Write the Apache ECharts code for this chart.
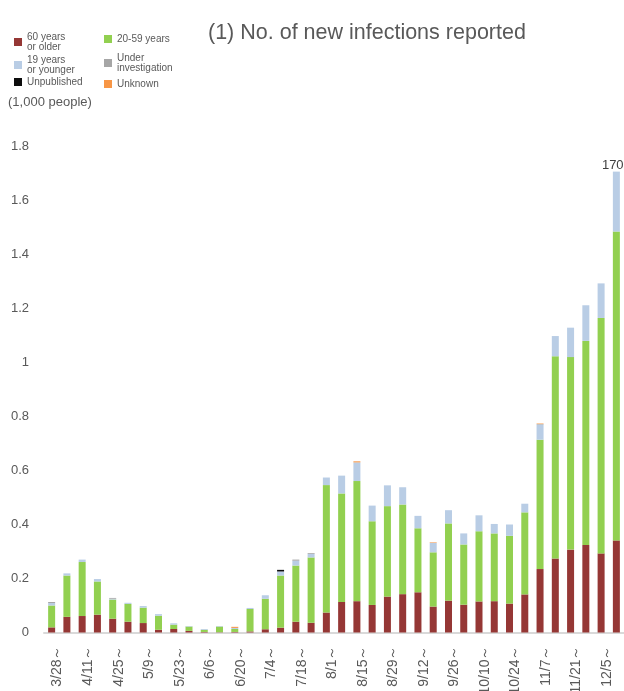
<!DOCTYPE html>
<html>
<head>
<meta charset="utf-8">
<script src="https://cdn.jsdelivr.net/npm/echarts@6/dist/echarts.min.js"></script>
<style>html,body{margin:0;padding:0;background:#fff}#c{width:624px;height:691px}</style>
</head>
<body>
<div id="c"></div>
<script>
var weeks = ['3/28～','4/4～','4/11～','4/18～','4/25～','5/2～','5/9～','5/16～','5/23～','5/30～','6/6～','6/13～','6/20～','6/27～','7/4～','7/11～','7/18～','7/25～','8/1～','8/8～','8/15～','8/22～','8/29～','9/5～','9/12～','9/19～','9/26～','10/3～','10/10～','10/17～','10/24～','10/31～','11/7～','11/14～','11/21～','11/28～','12/5～','12/12～'];
var age60plus = [0.019,0.058,0.061,0.066,0.051,0.040,0.035,0.010,0.013,0.006,0.002,0.001,0.002,0.004,0.012,0.018,0.040,0.036,0.074,0.113,0.116,0.102,0.133,0.142,0.149,0.096,0.118,0.103,0.115,0.116,0.107,0.141,0.235,0.274,0.307,0.324,0.293,0.341];
var age20to59 = [0.081,0.153,0.200,0.123,0.071,0.066,0.057,0.052,0.016,0.016,0.008,0.021,0.011,0.083,0.113,0.193,0.208,0.242,0.472,0.402,0.445,0.310,0.335,0.332,0.237,0.201,0.286,0.223,0.260,0.251,0.251,0.304,0.479,0.749,0.713,0.756,0.872,1.144];
var age19under = [0.009,0.008,0.009,0.009,0.003,0.004,0.006,0.006,0.005,0.002,0.003,0.002,0.004,0.004,0.013,0.015,0.018,0.013,0.028,0.066,0.069,0.058,0.077,0.064,0.046,0.035,0.049,0.041,0.059,0.035,0.042,0.032,0.056,0.075,0.109,0.132,0.128,0.222];
var underInvestigation = [0.004,0,0,0,0.003,0,0,0,0,0,0,0,0,0,0,0,0.004,0.003,0,0,0,0,0,0,0,0,0,0,0,0,0,0,0.002,0,0,0,0,0];
var unpublished = [0,0,0,0,0,0,0,0,0,0,0,0,0,0,0,0.006,0,0,0,0,0,0,0,0,0,0,0,0,0,0,0,0,0,0,0,0,0,0];
var unknown = [0,0,0,0,0,0,0,0,0,0,0,0,0.004,0,0,0,0,0,0,0,0.004,0,0,0,0,0.002,0,0,0,0,0,0,0.002,0,0,0,0,0];
var yTicks = [0,0.2,0.4,0.6,0.8,1,1.2,1.4,1.6,1.8];

var FONT = '"Liberation Sans", Arial, sans-serif';
var lastIdx = weeks.length - 1;
var lastTotal = age60plus[lastIdx] + age20to59[lastIdx] + age19under[lastIdx] + underInvestigation[lastIdx] + unpublished[lastIdx] + unknown[lastIdx];

function mk(name, data, color, withLabel) {
  return {
    name: name, type: 'bar', stack: 'total', barWidth: 7,
    itemStyle: {color: color},
    emphasis: {disabled: true},
    data: data.map(function (v, i) {
      if (withLabel && i === lastIdx) {
        return {value: v, label: {show: true, position: 'top', distance: 0, color: '#404040', fontSize: 13, fontFamily: FONT,
          formatter: function () { return String(Math.round(lastTotal * 1000)); }}};
      }
      return v;
    })
  };
}

function leg(name, left, top) {
  return {
    data: [name], left: left, top: top, padding: 0, itemWidth: 8, itemHeight: 8,
    icon: 'rect', selectedMode: false,
    textStyle: {color: '#595959', fontSize: 10, lineHeight: 10, fontFamily: FONT}
  };
}

var chart = echarts.init(document.getElementById('c'), null, {renderer: 'canvas'});
chart.setOption({
  animation: false,
  backgroundColor: '#ffffff',
  title: [
    {text: '(1) No. of new infections reported', left: 208, top: 22, padding: 0,
     textStyle: {color: '#595959', fontSize: 21.5, fontWeight: 'normal', fontFamily: FONT}},
    {text: '(1,000 people)', left: 8, top: 96, padding: 0,
     textStyle: {color: '#595959', fontSize: 13, fontWeight: 'normal', fontFamily: FONT}}
  ],
  legend: [
    leg('60 years\nor older', 14, 32),
    leg('20-59 years', 104, 34),
    leg('19 years\nor younger', 14, 55),
    leg('Under\ninvestigation', 104, 53),
    leg('Unpublished', 14, 77),
    leg('Unknown', 104, 79)
  ],
  grid: {left: 44, right: 0, top: 146.5, bottom: 58.5, containLabel: false, outerBoundsMode: 'none'},
  xAxis: {
    type: 'category', data: weeks, boundaryGap: true,
    axisLine: {show: true, lineStyle: {color: '#d9d9d9', width: 2}},
    axisTick: {show: false},
    axisLabel: {interval: 1, rotate: 90, margin: 13, color: '#595959', fontSize: 14, fontFamily: FONT, verticalAlign: 'top', lineHeight: 12}
  },
  yAxis: {
    type: 'value', min: 0, max: 1.8, interval: 0.2,
    splitLine: {show: false}, axisLine: {show: false}, axisTick: {show: false},
    axisLabel: {margin: 15, color: '#595959', fontSize: 13, fontFamily: FONT,
      formatter: function (v) { var r = Math.round(v * 10) / 10; return yTicks.indexOf(r) >= 0 ? String(r) : ''; }}
  },
  series: [
    mk('60 years\nor older', age60plus, '#953735', false),
    mk('20-59 years', age20to59, '#92D050', false),
    mk('19 years\nor younger', age19under, '#B9CDE5', true),
    mk('Under\ninvestigation', underInvestigation, '#A6A6A6', false),
    mk('Unpublished', unpublished, '#0D0D0D', false),
    mk('Unknown', unknown, '#F79646', false)
  ]
});
</script>
</body>
</html>
